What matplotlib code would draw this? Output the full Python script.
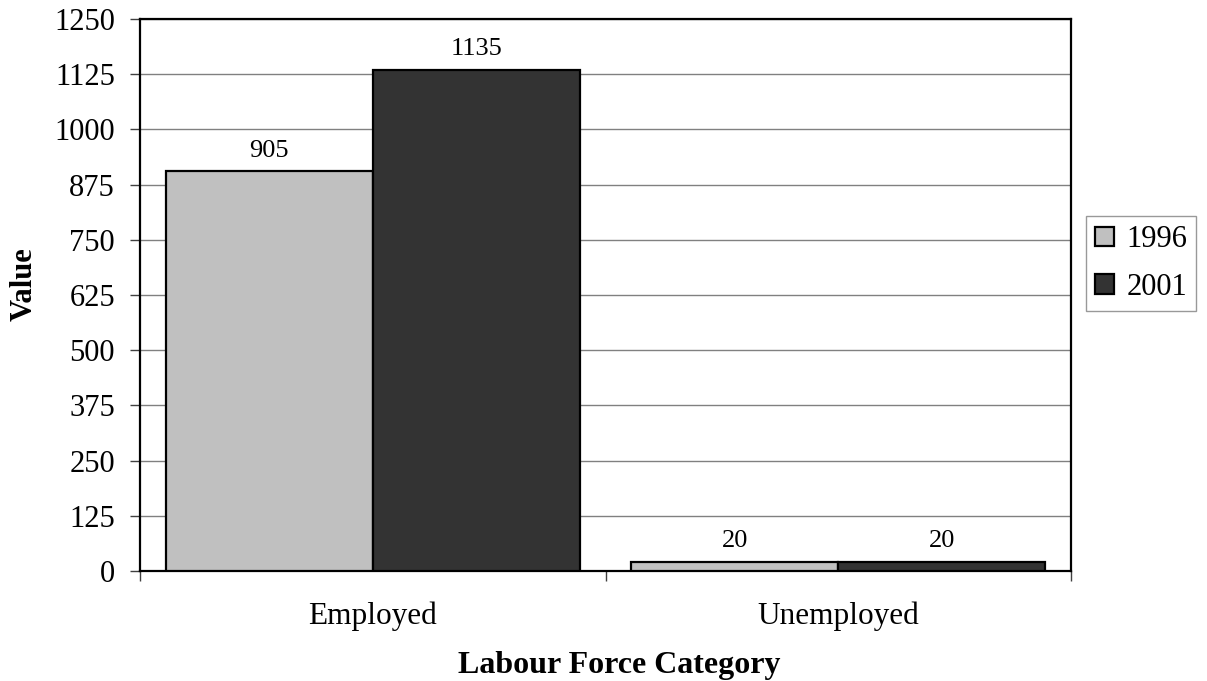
import matplotlib
matplotlib.use("Agg")
import matplotlib.pyplot as plt
import numpy as np

categories = ["Employed", "Unemployed"]
years = ["1996", "2001"]
values_1996 = [905, 20]
values_2001 = [1135, 20]
y_ticks = [0, 125, 250, 375, 500, 625, 750, 875, 1000, 1125, 1250]

plt.rcParams["font.family"] = ["Liberation Serif", "DejaVu Serif"]
FS = 22

fig = plt.figure(figsize=(12.07, 6.81), dpi=100)
ax = fig.add_axes([0.116, 0.1615, 0.7714, 0.8105])

x = np.arange(len(categories))
width = 0.445
colors = ["#C0C0C0", "#333333"]
series = [values_1996, values_2001]

for i, (vals, year, col) in enumerate(zip(series, years, colors)):
    pos = x + (i - 0.5) * width
    bars = ax.bar(pos, vals, width, color=col, edgecolor="black",
                  linewidth=1.6, label=year, zorder=3)
    for b, v in zip(bars, vals):
        ax.annotate(f"{v}", (b.get_x() + b.get_width() / 2, v),
                    xytext=(0, 7), textcoords="offset points",
                    ha="center", va="bottom", fontsize=FS - 3)

ax.set_xlim(-0.5, len(categories) - 0.5)
ax.set_ylim(0, 1250)
ax.set_yticks(y_ticks)
ax.set_yticklabels([str(t) for t in y_ticks], fontsize=FS)
ax.yaxis.grid(True, color="#808080", linewidth=1.0, zorder=0)

ax.set_xticks(x)
ax.set_xticklabels(categories, fontsize=FS + 0.5)
ax.set_xticks(np.arange(-0.5, len(categories)), minor=True)
ax.tick_params(axis="x", which="major", length=0, pad=22)
ax.tick_params(axis="x", which="minor", length=7, width=1, color="#404040")
ax.tick_params(axis="y", length=7, width=1, color="#404040", pad=11)

for s in ax.spines.values():
    s.set_linewidth(1.6)
    s.set_color("black")

ax.set_xlabel("Labour Force Category", fontsize=FS + 1, fontweight="bold")
ax.set_ylabel("Value", fontsize=FS, fontweight="bold")
ax.xaxis.set_label_coords(0.5145, -0.145)
ax.yaxis.set_label_coords(-0.109, 0.52)

leg = fig.legend(loc="upper left", bbox_to_anchor=(1086 / 1207, 1 - 216 / 681),
                 bbox_transform=fig.transFigure, fontsize=FS,
                 frameon=True, fancybox=False, edgecolor="#808080",
                 handlelength=0.62, handleheight=0.62, handletextpad=0.4,
                 borderpad=0.3, labelspacing=0.62, borderaxespad=0)
leg.get_frame().set_linewidth(1.0)

fig.savefig("out.png", dpi=100)
